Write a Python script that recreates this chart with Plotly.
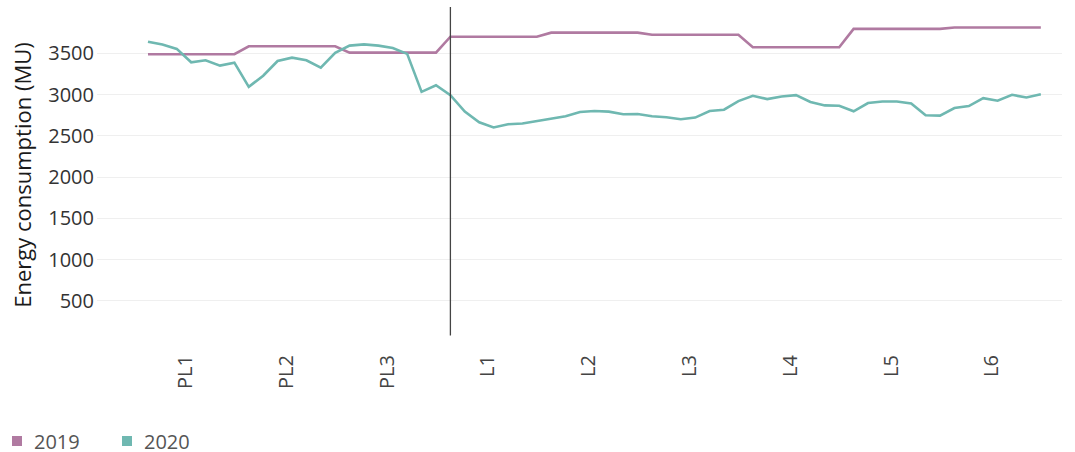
import plotly.graph_objects as go

# Period labels (weekly phases), 7 days each
period_labels = ["PL1", "PL2", "PL3", "L1", "L2", "L3", "L4", "L5", "L6"]

# Day index 0..62
days = list(range(63))

# 2019 daily energy consumption (MU) - weekly step levels
energy_2019 = [
    3488, 3488, 3488, 3488, 3488, 3488, 3488,
    3585, 3585, 3585, 3585, 3585, 3585, 3585,
    3508, 3508, 3508, 3508, 3508, 3508, 3508,
    3700, 3700, 3700, 3700, 3700, 3700, 3700,
    3750, 3750, 3750, 3750, 3750, 3750, 3750,
    3725, 3725, 3725, 3725, 3725, 3725, 3725,
    3572, 3572, 3572, 3572, 3572, 3572, 3572,
    3795, 3795, 3795, 3795, 3795, 3795, 3795,
    3812, 3812, 3812, 3812, 3812, 3812, 3812,
]

# 2020 daily energy consumption (MU)
energy_2020 = [
    3640, 3605, 3553, 3390, 3415, 3350, 3386,
    3093, 3228, 3406, 3447, 3415, 3325, 3504,
    3593, 3608, 3592, 3564, 3492, 3032, 3112,
    2992, 2792, 2664, 2600, 2640, 2648, 2680,
    2712, 2736, 2788, 2800, 2792, 2760, 2764,
    2736, 2724, 2700, 2720, 2800, 2816, 2920,
    2984, 2944, 2976, 2992, 2910, 2868, 2864,
    2796, 2896, 2916, 2916, 2892, 2748, 2744,
    2836, 2860, 2956, 2924, 2996, 2964, 3004,
]

lockdown_day = 21
y_ticks = [500, 1000, 1500, 2000, 2500, 3000, 3500, 4000]
y_title = "Energy consumption (MU)"
series_names = ["2019", "2020"]

color_2019 = "#b07aa1"
color_2020 = "#6fb8b1"
series_colors = [color_2019, color_2020]
font_family = "Open Sans"

fig = go.Figure()
fig.add_trace(go.Scatter(x=days, y=energy_2019, mode="lines", name=series_names[0],
                         line=dict(color=color_2019, width=2.6), showlegend=False))
fig.add_trace(go.Scatter(x=days, y=energy_2020, mode="lines", name=series_names[1],
                         line=dict(color=color_2020, width=2.6), showlegend=False))

fig.add_shape(type="line", xref="x", yref="paper", x0=lockdown_day, x1=lockdown_day,
              y0=0.02, y1=1.015, line=dict(color="#444444", width=1.3))

# y-axis title as rotated annotation
fig.add_annotation(text=y_title, xref="paper", yref="paper", x=-0.078, y=0.506,
                   xanchor="center", yanchor="middle", textangle=-90, showarrow=False,
                   font=dict(size=22, color="#1a1a1a", family=font_family))

# legend (square swatch + label) below the chart, laid out in paper units
legend_y = -0.30
legend_start = -0.0881
legend_step = 0.114
swatch_w = 0.0104
swatch_h = 0.0303
for i, (name, col) in enumerate(zip(series_names, series_colors)):
    x0 = legend_start + i * legend_step
    fig.add_shape(type="rect", xref="paper", yref="paper",
                  x0=x0, x1=x0 + swatch_w,
                  y0=legend_y - swatch_h / 2, y1=legend_y + swatch_h / 2,
                  fillcolor=col, line=dict(width=0))
    fig.add_annotation(text=name, xref="paper", yref="paper", x=x0 + 0.0205, y=legend_y,
                       xanchor="left", yanchor="middle", showarrow=False,
                       font=dict(size=20, color="#555555", family=font_family))

tickvals_x = [7 * k + 2.6 for k in range(len(period_labels))]

fig.update_layout(
    width=1075, height=452,
    margin=dict(l=97, r=13, t=12, b=110, autoexpand=False),
    paper_bgcolor="white", plot_bgcolor="white",
    font=dict(family=font_family, size=20, color="#333333"),
    showlegend=False,
    xaxis=dict(range=[-3.54, 63.47], tickmode="array", tickvals=tickvals_x,
               ticktext=period_labels, tickangle=-90, showgrid=False, zeroline=False,
               showline=False, ticks="", ticklabelstandoff=8, automargin=False,
               tickfont=dict(size=20, color="#444444")),
    yaxis=dict(range=[0, 4000], tickmode="array", tickvals=y_ticks,
               ticktext=[str(v) if v < 4000 else "" for v in y_ticks],
               showgrid=True, gridcolor="#efefef", gridwidth=1, zeroline=False,
               showline=False, ticks="", ticklabelstandoff=2, automargin=False,
               tickfont=dict(size=20, color="#333333")),
)

fig.write_html("out.html", config={"displayModeBar": False},
               post_script="document.body.style.margin='0px';")
